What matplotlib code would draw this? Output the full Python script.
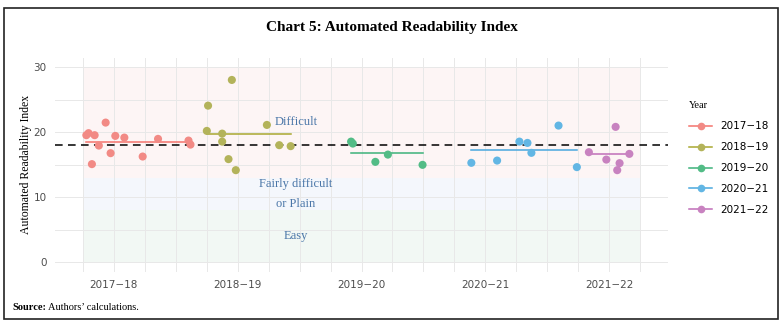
import numpy as np
import matplotlib
matplotlib.use("Agg")
import matplotlib.pyplot as plt
from matplotlib.patches import Rectangle
from matplotlib.lines import Line2D

# speech dates as decimal years, ARI score per speech
years = ["2017\u221218", "2018\u221219", "2019\u221220", "2020\u221221", "2021\u221222"]
x_1718 = [2017.528, 2017.546, 2017.595, 2017.573, 2017.684, 2017.629, 2017.724,
          2017.762, 2017.835, 2017.983, 2018.107, 2018.353, 2018.369]
y_1718 = [19.54, 19.85, 19.54, 15.08, 21.48, 17.94, 16.77, 19.43, 19.17, 16.25,
          18.97, 18.71, 18.09]
x_1819 = [2018.703, 2018.511, 2018.501, 2018.625, 2018.625, 2018.676, 2018.735,
          2018.986, 2019.086, 2019.178]
y_1819 = [28.05, 24.09, 20.2, 19.78, 18.55, 15.85, 14.15, 21.12, 18.0, 17.85]
x_1920 = [2019.666, 2019.680, 2019.963, 2019.862, 2020.243]
y_1920 = [18.55, 18.25, 16.55, 15.43, 14.97]
x_2021 = [2020.637, 2020.845, 2021.025, 2021.090, 2021.122, 2021.341, 2021.489]
y_2021 = [15.28, 15.63, 18.55, 18.35, 16.82, 21.02, 14.62]
x_2122 = [2021.586, 2021.802, 2021.727, 2021.834, 2021.815, 2021.913]
y_2122 = [16.92, 20.82, 15.78, 15.23, 14.15, 16.66]

overall_mean = 18.1
tick_pos = [2017.75, 2018.75, 2019.75, 2020.75, 2021.75]
bands = [(0, 8, "#F2F8F4"), (8, 13, "#F4F7FC"), (13, 30, "#FDF5F5")]

xs = [x_1718, x_1819, x_1920, x_2021, x_2122]
ys = [y_1718, y_1819, y_1920, y_2021, y_2122]
pt_colors = ["#F28A85", "#B3B35A", "#52BC86", "#62B6E4", "#C882C0"]
ln_colors = ["#F4736C", "#A9A830", "#3DB27A", "#4AA8DE", "#C06EB8"]

fig = plt.figure(figsize=(7.84, 3.30), dpi=100)
fig.patches.append(Rectangle((4 / 784, 1 - 319 / 330), 774 / 784, 311 / 330,
                             transform=fig.transFigure, fill=False,
                             edgecolor="#222222", linewidth=1.2))

ax = fig.add_axes([55 / 784, 1 - 271.75 / 330, 613 / 784, 214.2 / 330])
ax.set_xlim(2017.275, 2022.225)
ax.set_ylim(-1.5, 31.5)

for lo, hi, c in bands:
    ax.add_patch(Rectangle((2017.5, lo), 4.5, hi - lo, facecolor=c,
                           edgecolor="none", zorder=0))

for gx in np.arange(2017.5, 2022.01, 0.25):
    ax.axvline(gx, color="#E8E8E8", linewidth=0.7, zorder=1)
for gy in range(0, 31, 5):
    ax.axhline(gy, color="#E8E8E8", linewidth=0.7, zorder=1)

ax.axhline(overall_mean, color="black", linestyle=(0, (5, 3.5)),
           linewidth=1.1, zorder=3)

for x, y, pc, lc in zip(xs, ys, pt_colors, ln_colors):
    ax.plot([min(x), max(x)], [np.mean(y)] * 2, color=lc, linewidth=1.1, zorder=2)
    ax.scatter(x, y, s=34, color=pc, edgecolors="none", zorder=4)

txt_c = "#4A76A8"
ax.text(2019.22, 21.6, "Difficult", ha="center", va="center", color=txt_c,
        family="Liberation Serif", fontsize=9)
ax.text(2019.22, 10.5, "Fairly difficult\nor Plain", ha="center", va="center",
        color=txt_c, family="Liberation Serif", fontsize=9, linespacing=1.9)
ax.text(2019.22, 4.05, "Easy", ha="center", va="center", color=txt_c,
        family="Liberation Serif", fontsize=9)

for s in ax.spines.values():
    s.set_visible(False)
ax.set_xticks(tick_pos)
ax.set_xticklabels(years)
ax.set_yticks([0, 10, 20, 30])
ax.tick_params(length=0, labelsize=7.5, labelcolor="#4D4D4D", pad=6)
ax.set_ylabel("Automated Readability Index", family="Liberation Serif",
              fontsize=8.5, labelpad=1)

fig.text(0.5, 1 - 27 / 330, "Chart 5: Automated Readability Index",
         ha="center", va="center", family="Liberation Serif",
         fontweight="bold", fontsize=11)

# legend
handles = [Line2D([0], [0], color=lc, marker="o", markerfacecolor=pc,
                  markeredgecolor="none", markersize=5.5, linewidth=1.1)
           for pc, lc in zip(pt_colors, ln_colors)]
leg = fig.legend(handles, years, loc="upper left",
                 bbox_to_anchor=(680 / 784, 1 - 92 / 330), frameon=False,
                 title="Year", fontsize=7.5, handlelength=2.2,
                 labelspacing=1.05, alignment="left")
leg.get_title().set_family("Liberation Serif")
leg.get_title().set_fontsize(7.5)

fig.text(12 / 784, 1 - 308 / 330, "Source:", family="Liberation Serif",
         fontweight="bold", fontsize=7.5, va="center")
fig.text(48 / 784, 1 - 308 / 330, "Authors\u2019 calculations.",
         family="Liberation Serif", fontsize=7.5, va="center")

fig.savefig("out.png", dpi=100)
